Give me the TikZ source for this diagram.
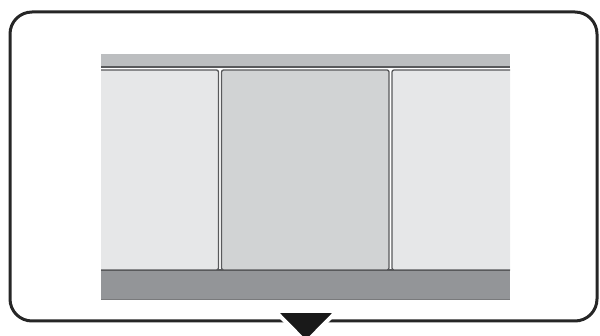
\documentclass[tikz,border=0pt]{standalone}
\definecolor{barTop}{HTML}{BCBEC0}
\definecolor{barBot}{HTML}{939598}
\definecolor{paneSide}{HTML}{E6E7E8}
\definecolor{paneMid}{HTML}{D1D3D4}
\definecolor{edge}{HTML}{58595B}
\begin{document}
\begin{tikzpicture}[x=1pt,y=-1pt,line join=round,
  pane/.style={draw=edge,line width=1.3pt,rounded corners=2pt}]
\useasboundingbox (0,0) rectangle (600,336);
% thanh tren va thanh duoi
\fill[barTop] (101,54) rectangle (510,68);
\draw[edge,line width=1.2pt] (101,67)--(510,67);
\fill[barBot] (101,269) rectangle (510,300);
\draw[edge,line width=1.5pt] (101,270)--(510,270);
\draw[edge!80,line width=1pt] (101,299.5)--(510,299.5);
% ba o
\begin{scope}
\clip (101,60) rectangle (510,272);
\draw[pane,fill=paneSide] (80,70) rectangle (218.5,270);
\draw[pane,fill=paneMid] (221.5,70) rectangle (389,270);
\draw[pane,fill=paneSide] (392,70) rectangle (530,270);
\end{scope}
% khung ngoai
\draw[line width=3pt,color=black!85,rounded corners=22pt] (10,12) rectangle (597,321);
% mui ten tam giac
\filldraw[black!90,draw=white,line width=4pt] (275,311)--(337,311)--(306,342.5)--cycle;
\end{tikzpicture}
\end{document}
